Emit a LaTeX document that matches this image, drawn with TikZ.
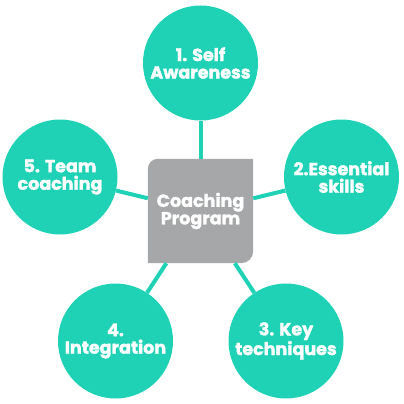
\documentclass[tikz,border=0pt]{standalone}
\usepackage{fontspec}
\setmainfont{Poppins}[BoldFont={* Bold}, BoldFeatures={FakeBold=1.6}]
\usepackage{xcolor}
\usetikzlibrary{positioning}
\definecolor{teal}{HTML}{1FD2B5}
\definecolor{progray}{HTML}{A6A7A9}

\begin{document}
\begin{tikzpicture}[
      x=1pt, y=1pt,
      font=\fontsize{17.5}{17.5}\selectfont\bfseries,
      stage/.style={circle, fill=teal, text=white, minimum size=115pt, inner sep=0pt, align=center},
      hub/.style={rectangle, minimum width=105pt, minimum height=104pt, inner sep=0pt, text=white, align=center},
      link/.style={draw=teal, line width=4pt}
    ]
    \useasboundingbox (0,0) rectangle (404,-404);
    \node[hub] (prog) at (200.5,-211) {};
    \fill[progray] (prog.south west) -- ([yshift=-10pt]prog.north west)
      arc[start angle=180, end angle=90, radius=10pt] -- (prog.north east)
      -- ([yshift=12pt]prog.south east) arc[start angle=0, end angle=-90, radius=12pt] -- cycle;
    \node[hub] at (prog) {Coaching\\Program};
    \foreach \i/\x/\y/\t in {
      1/200.5/-63/{1. Self\\Awareness},
      2/341.5/-177/{2.Essential\\skills},
      3/286/-341/{3. Key\\techniques},
      4/115.5/-341/{4.\\Integration},
      5/60/-177/{5. Team\\coaching}} {
      \node[stage] (c\i) at (\x,\y) {\t};
      \draw[link] (prog) -- (c\i);
    }
  \end{tikzpicture}
\end{document}
